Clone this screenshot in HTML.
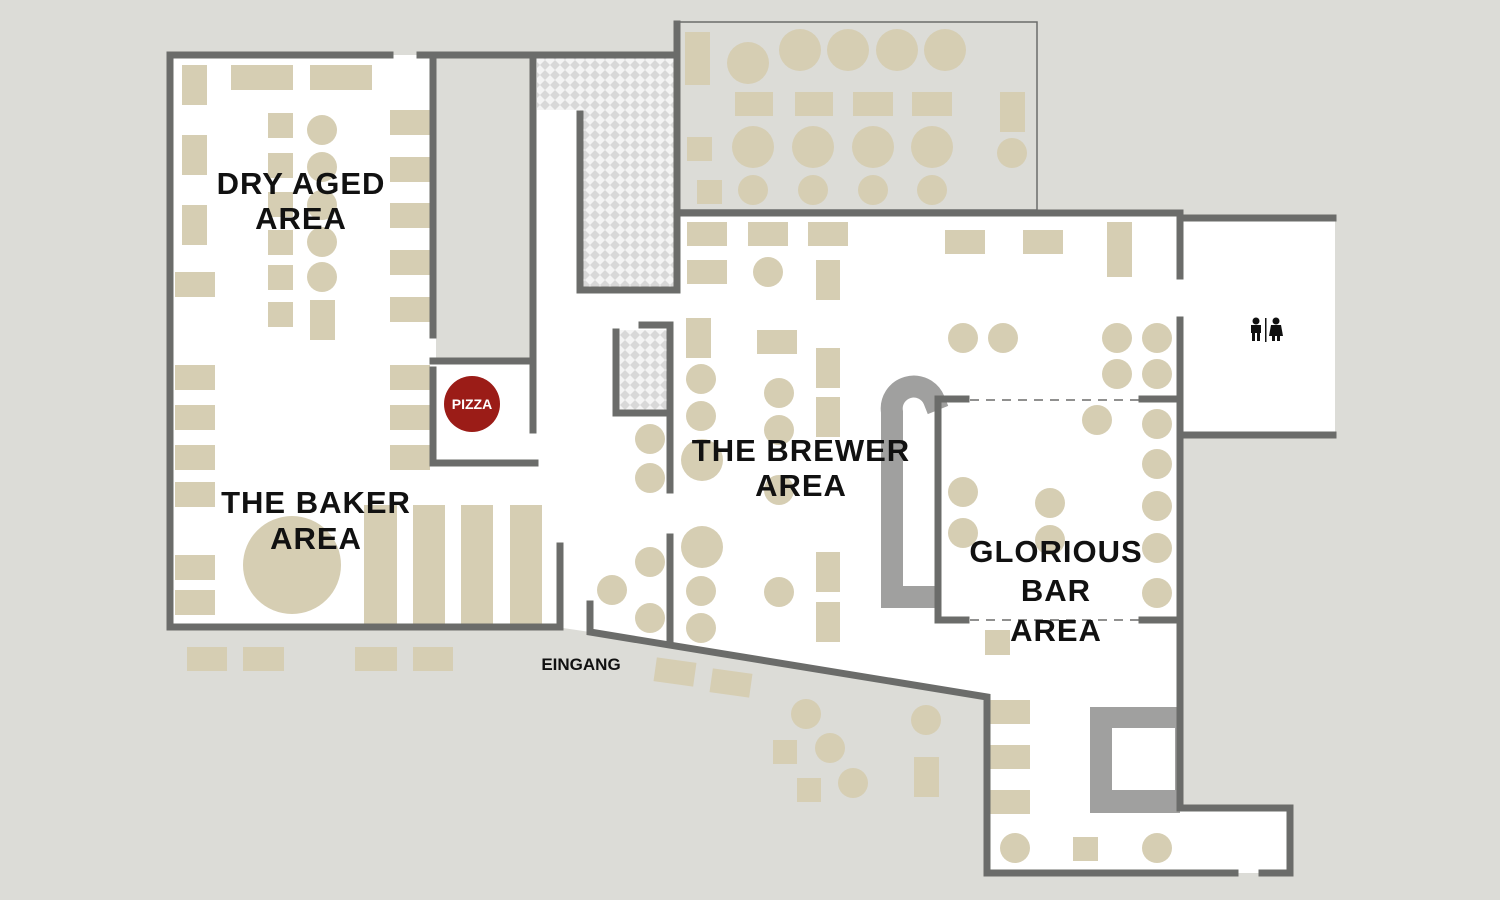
<!DOCTYPE html>
<html><head><meta charset="utf-8"><style>
html,body{margin:0;padding:0;background:#dcdcd7;}
svg{display:block}
text{font-family:"Liberation Sans",sans-serif;font-weight:bold;fill:#111;}
</style></head><body>
<svg width="1500" height="900" viewBox="0 0 1500 900" xmlns="http://www.w3.org/2000/svg">
<defs>
<pattern id="chk" width="10" height="10" patternUnits="userSpaceOnUse">
<rect width="10" height="10" fill="#f4f4f4"/>
<path d="M5 0L10 5L5 10L0 5Z" fill="#d8d8d8"/>
</pattern>
</defs>
<rect width="1500" height="900" fill="#dcdcd7"/>
<polygon points="170,55 677,55 677,213 1180,213 1180,220 1335,220 1335,435 1180,435 1180,808 1290,808 1290,873 987,873 987,697 590,632 563,628 170,628" fill="#fff"/>
<rect x="436" y="58" width="94" height="300" fill="#dcdcd7"/>
<rect x="677" y="22" width="360" height="188" fill="#dcdcd7" stroke="#6b6c6a" stroke-width="1.5"/>
<polygon points="537,58 675,58 675,288 580,288 580,110 537,110" fill="url(#chk)"/>
<rect x="618" y="330" width="50" height="82" fill="url(#chk)"/>

<g fill="#d6ceb3">
<rect x="182" y="65" width="25" height="40"/><rect x="231" y="65" width="62" height="25"/><rect x="310" y="65" width="62" height="25"/>
<rect x="182" y="135" width="25" height="40"/><rect x="182" y="205" width="25" height="40"/><rect x="175" y="272" width="40" height="25"/>
<rect x="268" y="113" width="25" height="25"/><circle cx="322" cy="130" r="15"/>
<rect x="268" y="153" width="25" height="25"/><circle cx="322" cy="167" r="15"/>
<rect x="268" y="192" width="25" height="25"/><circle cx="322" cy="205" r="15"/>
<rect x="268" y="230" width="25" height="25"/><circle cx="322" cy="242" r="15"/>
<rect x="268" y="265" width="25" height="25"/><circle cx="322" cy="277" r="15"/>
<rect x="268" y="302" width="25" height="25"/><rect x="310" y="300" width="25" height="40"/>
<rect x="390" y="110" width="40" height="25"/><rect x="390" y="157" width="40" height="25"/><rect x="390" y="203" width="40" height="25"/><rect x="390" y="250" width="40" height="25"/><rect x="390" y="297" width="40" height="25"/>
<rect x="175" y="365" width="40" height="25"/><rect x="175" y="405" width="40" height="25"/><rect x="175" y="445" width="40" height="25"/><rect x="175" y="482" width="40" height="25"/><rect x="175" y="555" width="40" height="25"/><rect x="175" y="590" width="40" height="25"/>
<rect x="390" y="365" width="40" height="25"/><rect x="390" y="405" width="40" height="25"/><rect x="390" y="445" width="40" height="25"/>
<circle cx="292" cy="565" r="49"/>
<rect x="364" y="505" width="33" height="120"/><rect x="413" y="505" width="32" height="120"/><rect x="461" y="505" width="32" height="120"/><rect x="510" y="505" width="32" height="120"/>
<rect x="187" y="647" width="40" height="24"/><rect x="243" y="647" width="41" height="24"/><rect x="355" y="647" width="42" height="24"/><rect x="413" y="647" width="40" height="24"/>
<rect x="685" y="32" width="25" height="53"/>
<circle cx="748" cy="63" r="21"/><circle cx="800" cy="50" r="21"/><circle cx="848" cy="50" r="21"/><circle cx="897" cy="50" r="21"/><circle cx="945" cy="50" r="21"/>
<rect x="735" y="92" width="38" height="24"/><rect x="795" y="92" width="38" height="24"/><rect x="853" y="92" width="40" height="24"/><rect x="912" y="92" width="40" height="24"/><rect x="1000" y="92" width="25" height="40"/>
<circle cx="753" cy="147" r="21"/><circle cx="813" cy="147" r="21"/><circle cx="873" cy="147" r="21"/><circle cx="932" cy="147" r="21"/>
<rect x="687" y="137" width="25" height="24"/><circle cx="1012" cy="153" r="15"/>
<rect x="697" y="180" width="25" height="24"/>
<circle cx="753" cy="190" r="15"/><circle cx="813" cy="190" r="15"/><circle cx="873" cy="190" r="15"/><circle cx="932" cy="190" r="15"/>
<rect x="687" y="222" width="40" height="24"/><rect x="748" y="222" width="40" height="24"/><rect x="808" y="222" width="40" height="24"/>
<rect x="687" y="260" width="40" height="24"/><circle cx="768" cy="272" r="15"/><rect x="816" y="260" width="24" height="40"/>
<rect x="945" y="230" width="40" height="24"/><rect x="1023" y="230" width="40" height="24"/><rect x="1107" y="222" width="25" height="55"/>
<rect x="686" y="318" width="25" height="40"/><rect x="757" y="330" width="40" height="24"/><rect x="816" y="348" width="24" height="40"/><rect x="816" y="397" width="24" height="40"/>
<circle cx="701" cy="379" r="15"/><circle cx="701" cy="416" r="15"/><circle cx="779" cy="393" r="15"/><circle cx="779" cy="430" r="15"/>
<circle cx="650" cy="439" r="15"/><circle cx="650" cy="478" r="15"/><circle cx="702" cy="460" r="21"/><circle cx="779" cy="490" r="15"/>
<circle cx="702" cy="547" r="21"/><circle cx="701" cy="591" r="15"/><circle cx="701" cy="628" r="15"/>
<circle cx="650" cy="562" r="15"/><circle cx="650" cy="618" r="15"/><circle cx="612" cy="590" r="15"/><circle cx="779" cy="592" r="15"/>
<rect x="816" y="552" width="24" height="40"/><rect x="816" y="602" width="24" height="40"/>
<circle cx="963" cy="338" r="15"/><circle cx="1003" cy="338" r="15"/><circle cx="1117" cy="338" r="15"/><circle cx="1157" cy="338" r="15"/><circle cx="1117" cy="374" r="15"/><circle cx="1157" cy="374" r="15"/>
<circle cx="1097" cy="420" r="15"/><circle cx="1157" cy="424" r="15"/><circle cx="1157" cy="464" r="15"/><circle cx="1157" cy="506" r="15"/><circle cx="1157" cy="548" r="15"/><circle cx="1157" cy="593" r="15"/>
<circle cx="963" cy="492" r="15"/><circle cx="963" cy="533" r="15"/><circle cx="1050" cy="503" r="15"/><circle cx="1050" cy="540" r="15"/>
<rect x="985" y="630" width="25" height="25"/>
<rect x="990" y="700" width="40" height="24"/><rect x="990" y="745" width="40" height="24"/><rect x="990" y="790" width="40" height="24"/>
<circle cx="1015" cy="848" r="15"/><circle cx="1157" cy="848" r="15"/><rect x="1073" y="837" width="25" height="24"/>
<rect x="655" y="660" width="40" height="24" transform="rotate(8 675 672)"/><rect x="711" y="671" width="40" height="24" transform="rotate(8 731 683)"/>
<circle cx="806" cy="714" r="15"/><circle cx="830" cy="748" r="15"/><circle cx="853" cy="783" r="15"/><circle cx="926" cy="720" r="15"/>
<rect x="773" y="740" width="24" height="24"/><rect x="797" y="778" width="24" height="24"/><rect x="914" y="757" width="25" height="40"/>
</g>

<path d="M938 597 H892 V412 A22 22 0 0 1 934 400 L938 410" fill="none" stroke="#a0a09f" stroke-width="22" stroke-linejoin="miter"/>
<rect x="1090" y="707" width="90" height="106" fill="#a0a09f"/>
<rect x="1112" y="728" width="63" height="62" fill="#fff"/>

<g stroke="#6b6c6a" stroke-width="7" fill="none" stroke-linecap="square">
<polyline points="390,55 170,55 170,627 560,627 560,546"/>
<polyline points="420,55 677,55"/>
<line x1="433" y1="55" x2="433" y2="335"/>
<polyline points="433,370 433,463 535,463"/>
<line x1="433" y1="361" x2="530" y2="361"/>
<line x1="533" y1="55" x2="533" y2="430"/>
<polyline points="580,114 580,290 677,290 677,24"/>
<line x1="677" y1="213" x2="1180" y2="213"/>
<line x1="1180" y1="213" x2="1180" y2="276"/>
<polyline points="1183,218 1333,218"/>
<polyline points="1183,435 1333,435"/>
<polyline points="1180,320 1180,808 1290,808 1290,873 1262,873"/>
<polyline points="1235,873 987,873 987,697 590,632 590,604"/>
<polyline points="642,325 670,325 670,490"/>
<polyline points="616,332 616,413 668,413"/>
<line x1="670" y1="537" x2="670" y2="640"/>
<polyline points="966,399 938,399 938,620 966,620"/>
<line x1="1142" y1="399" x2="1178" y2="399"/>
<line x1="1142" y1="620" x2="1178" y2="620"/>
</g>
<g stroke="#6b6c6a" stroke-width="1.5" stroke-dasharray="9,7">
<line x1="970" y1="400" x2="1140" y2="400"/>
<line x1="970" y1="620" x2="1140" y2="620"/>
</g>

<circle cx="472" cy="404" r="28" fill="#9b1c17"/>
<text x="472" y="409" font-size="14" text-anchor="middle" style="fill:#fff">PIZZA</text>

<g fill="#111">
<circle cx="1256" cy="321" r="3.5"/><rect x="1251" y="325" width="10" height="8"/><rect x="1252" y="332" width="3" height="9"/><rect x="1257" y="332" width="3" height="9"/>
<rect x="1265" y="318" width="1.5" height="24"/>
<circle cx="1276" cy="321" r="3.5"/><polygon points="1271,325 1281,325 1283,336 1269,336"/><rect x="1272" y="335" width="3" height="6"/><rect x="1277" y="335" width="3" height="6"/>
</g>

<g font-size="31" text-anchor="middle" letter-spacing="1">
<text x="301" y="194">DRY AGED</text>
<text x="301" y="229">AREA</text>
<text x="316" y="513">THE BAKER</text>
<text x="316" y="549">AREA</text>
<text x="801" y="461">THE BREWER</text>
<text x="801" y="496">AREA</text>
<text x="1056" y="562">GLORIOUS</text>
<text x="1056" y="601">BAR</text>
<text x="1056" y="641">AREA</text>
</g>
<text x="581" y="670" font-size="17" text-anchor="middle">EINGANG</text>
</svg>
</body></html>
